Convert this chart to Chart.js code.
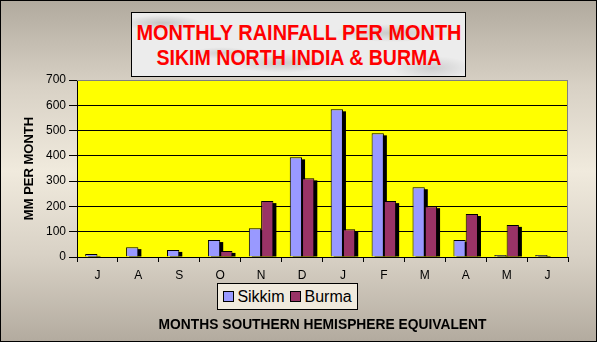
<!DOCTYPE html>
<html>
<head>
<meta charset="utf-8">
<script src="https://cdn.jsdelivr.net/npm/chart.js@4"></script>
<style>
    html, body { margin: 0; padding: 0; }
    body {
        width: 597px; height: 342px; overflow: hidden; position: relative;
        font-family: 'Liberation Sans', Arial, sans-serif;
    }
    #frame {
        position: absolute; left: 0; top: 0; width: 595px; height: 340px;
        border: 1px solid #000;
        background: linear-gradient(to bottom, #b1aa9e 0%, #d8d1c5 25%, #f0eadd 50%, #d8d1c5 75%, #b3ab9f 100%);
    }
    #chart-wrap { position: absolute; left: 0; top: 0; width: 597px; height: 342px; }
    #title-box {
        position: absolute; left: 131px; top: 12px; width: 335px; height: 65px;
        border: 1px solid #000; box-sizing: border-box; overflow: hidden;
        background:
            radial-gradient(ellipse 40px 8px at 30px 10px, rgba(120,120,120,0.35), transparent),
            radial-gradient(ellipse 50px 10px at 150px 50px, rgba(120,120,120,0.3), transparent),
            radial-gradient(ellipse 60px 9px at 260px 20px, rgba(120,120,120,0.3), transparent),
            radial-gradient(ellipse 40px 12px at 300px 55px, rgba(120,120,120,0.25), transparent),
            radial-gradient(ellipse 30px 6px at 90px 40px, rgba(120,120,120,0.25), transparent),
            #ececec;
        color: #ff0000; font-weight: bold; font-size: 22px;
    }
    #title-box .line {
        position: absolute; left: 50%; white-space: nowrap; line-height: 24px;
        transform-origin: center;
    }
    #legend {
        position: absolute; left: 217px; top: 283px; width: 141px; height: 27px;
        border: 1px solid #000; background: #f0eadd; box-sizing: border-box;
        display: flex; align-items: center; justify-content: center; gap: 6px;
        font-size: 16px; color: #000;
    }
    #legend .sw { display: inline-block; width: 9px; height: 9px; border: 1px solid #000; margin-right: 3px; vertical-align: middle; position: relative; top: -1px; }
    #x-title {
        position: absolute; left: 0; width: 645px; top: 317px; text-align: center;
        font-weight: bold; font-size: 13.8px; color: #000;
    }
</style>
</head>
<body>
<div id="frame"></div>
<div id="title-box">
    <div class="line" style="top: 8px;" data-w="325">MONTHLY RAINFALL PER MONTH</div>
    <div class="line" style="top: 33px;" data-w="285">SIKIM NORTH INDIA &amp; BURMA</div>
</div>
<div id="chart-wrap"><canvas id="rain-chart" width="597" height="342"></canvas></div>
<div id="legend"></div>
<div id="x-title">MONTHS SOUTHERN HEMISPHERE EQUIVALENT</div>
<script>
    const months = ['J', 'A', 'S', 'O', 'N', 'D', 'J', 'F', 'M', 'A', 'M', 'J'];
    const sikkim = [12, 39, 28, 67, 114, 394, 584, 489, 276, 67, 8, 8];
    const burma = [0, 0, 0, 24, 221, 311, 110, 221, 201, 170, 127, 0];
    const seriesNames = ['Sikkim', 'Burma'];
    const seriesColors = ['#9999ff', '#993366'];
    const yTicks = [0, 100, 200, 300, 400, 500, 600, 700];

    const FONT = "'Liberation Sans', Arial, sans-serif";

    // squeeze the title lines to the width they have in the original
    document.querySelectorAll('#title-box .line').forEach((el) => {
        const target = Number(el.dataset.w);
        const w = el.getBoundingClientRect().width;
        const k = w > 0 ? target / w : 1;
        el.style.transform = `translateX(-50%) scaleX(${k})`;
    });

    // yellow plot area, grey top/right border, hard bar shadows
    const plotArea = {
        id: 'plotArea',
        beforeDraw(chart) {
            const { ctx, chartArea: a } = chart;
            ctx.save();
            ctx.fillStyle = '#ffff00';
            ctx.fillRect(a.left, a.top, a.right - a.left, a.bottom - a.top);
            ctx.restore();
        },
        beforeDatasetsDraw(chart) {
            const { ctx, chartArea: a } = chart;
            ctx.save();
            ctx.strokeStyle = '#808080';
            ctx.lineWidth = 1;
            ctx.beginPath();
            ctx.moveTo(a.left, a.top + 0.5);
            ctx.lineTo(a.right - 0.5, a.top + 0.5);
            ctx.lineTo(a.right - 0.5, a.bottom);
            ctx.stroke();
            ctx.fillStyle = '#000';
            chart.data.datasets.forEach((ds, i) => {
                chart.getDatasetMeta(i).data.forEach((bar) => {
                    const h = bar.base - bar.y;
                    if (h <= 0) return;
                    ctx.fillRect(bar.x - bar.width / 2 + 3, bar.y + 2, bar.width, bar.base - bar.y - 2);
                });
            });
            ctx.restore();
        }
    };

    const ctx = document.getElementById('rain-chart').getContext('2d');
    new Chart(ctx, {
        type: 'bar',
        data: {
            labels: months,
            datasets: [
                { label: seriesNames[0], data: sikkim, backgroundColor: seriesColors[0], borderColor: '#000', borderWidth: 1 },
                { label: seriesNames[1], data: burma, backgroundColor: seriesColors[1], borderColor: '#000', borderWidth: 1 }
            ]
        },
        options: {
            responsive: false,
            animation: false,
            layout: { padding: { left: 14, right: 29, top: 80, bottom: 0 } },
            datasets: { bar: { categoryPercentage: 0.6, barPercentage: 1 } },
            plugins: { legend: { display: false }, tooltip: { enabled: false } },
            scales: {
                x: {
                    grid: { offset: true, drawOnChartArea: false, tickLength: 5, color: '#000' },
                    border: { color: '#000' },
                    ticks: { color: '#000', font: { family: FONT, size: 12 }, padding: 6, maxRotation: 0 },
                    afterFit: (s) => { s.height = 85; }
                },
                y: {
                    min: 0,
                    max: 700,
                    afterBuildTicks: (s) => { s.ticks = yTicks.map((v) => ({ value: v })); },
                    grid: {
                        color: (c) => (c.tick && c.tick.value === 700 ? '#808080' : '#000'),
                        tickColor: '#000',
                        tickLength: 8
                    },
                    border: { color: '#000' },
                    ticks: { color: '#000', font: { family: FONT, size: 12 }, padding: 3 },
                    title: {
                        display: true,
                        text: 'MM PER MONTH',
                        color: '#000',
                        font: { family: FONT, size: 13, weight: 'bold' },
                        padding: { top: 8, bottom: 0 }
                    },
                    afterFit: (s) => { s.width = 63; }
                }
            }
        },
        plugins: [plotArea]
    });

    const legend = document.getElementById('legend');
    seriesNames.forEach((name, i) => {
        const item = document.createElement('span');
        const sw = document.createElement('span');
        sw.className = 'sw';
        sw.style.background = seriesColors[i];
        item.appendChild(sw);
        item.appendChild(document.createTextNode(name));
        legend.appendChild(item);
    });
</script>
</body>
</html>
